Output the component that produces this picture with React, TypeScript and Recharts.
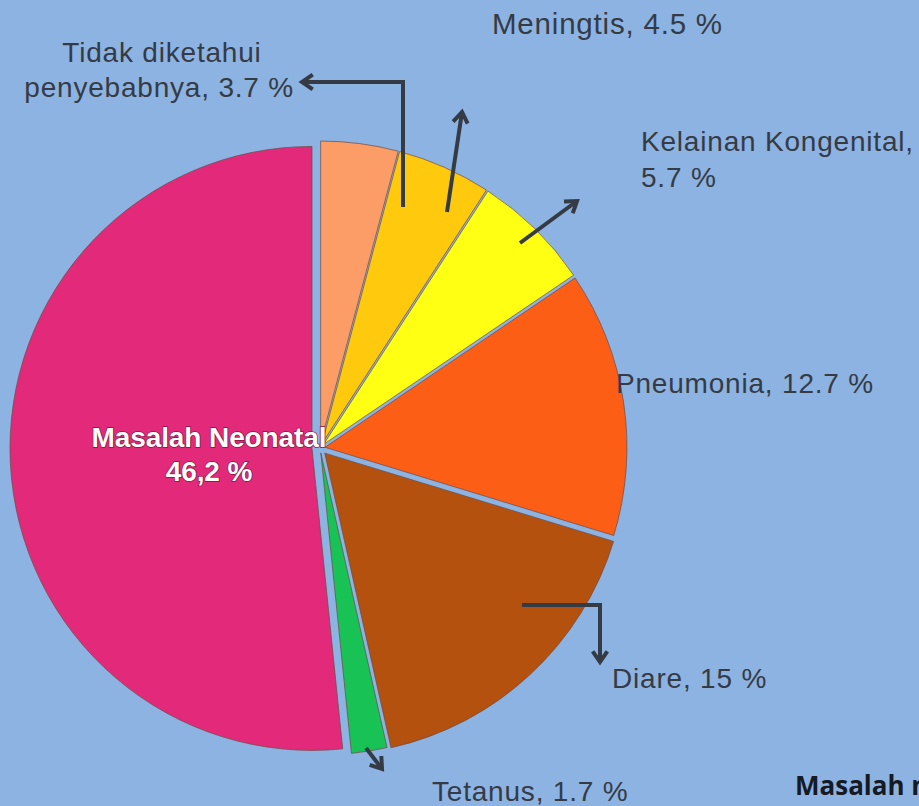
import { PieChart, Pie, Cell, Sector } from 'recharts';

const causes = [
  'Tidak diketahui penyebabnya',
  'Meningtis',
  'Kelainan Kongenital',
  'Pneumonia',
  'Diare',
  'Tetanus',
  'Masalah Neonatal',
];
const shares = [3.7, 4.5, 5.7, 12.7, 15, 1.7, 46.2];
const shareLabels = ['3.7 %', '4.5 %', '5.7 %', '12.7 %', '15 %', '1.7 %', '46,2 %'];

const colors = ['#FC9C66', '#FFC90E', '#FFFF14', '#FC5E16', '#B5510F', '#18C254', '#E32A7A'];
const explode = [5, 5, 5, 5, 7, 5, 8];

const data = causes.map((name, i) => ({ name, value: shares[i] }));

const BG = '#8DB3E2';
const INK = '#353b44';

// label text lines + arrow paths (chart px)
const labelLayout: {
  lines: { text: string; x: number; y: number; anchor?: 'start' | 'middle' | 'end'; size?: number }[];
  arrow?: [number, number][];
}[] = [
  {
    lines: [
      { text: 'Tidak diketahui', x: 162, y: 62, anchor: 'middle' },
      { text: `penyebabnya, ${shareLabels[0]}`, x: 294, y: 97, anchor: 'end' },
    ],
    arrow: [[403, 207], [403, 82], [302, 82]],
  },
  {
    lines: [{ text: `Meningtis, ${shareLabels[1]}`, x: 492, y: 34, size: 29.5 }],
    arrow: [[447, 212], [462, 112]],
  },
  {
    lines: [
      { text: 'Kelainan Kongenital,', x: 641, y: 151 },
      { text: shareLabels[2], x: 641, y: 187 },
    ],
    arrow: [[520, 243], [577, 201]],
  },
  {
    lines: [{ text: `Pneumonia, ${shareLabels[3]}`, x: 616, y: 393 }],
  },
  {
    lines: [{ text: `Diare, ${shareLabels[4]}`, x: 612, y: 688 }],
    arrow: [[522, 605], [600, 605], [600, 662]],
  },
  {
    lines: [{ text: `Tetanus, ${shareLabels[5]}`, x: 432, y: 801 }],
    arrow: [[366, 748], [382, 769]],
  },
];

const Arrow = ({ pts }: { pts: [number, number][] }) => {
  const [x1, y1] = pts[pts.length - 2];
  const [x2, y2] = pts[pts.length - 1];
  const a = Math.atan2(y2 - y1, x2 - x1);
  const w = 13;
  const s = 0.6;
  const h1 = [x2 - w * Math.cos(a - s), y2 - w * Math.sin(a - s)];
  const h2 = [x2 - w * Math.cos(a + s), y2 - w * Math.sin(a + s)];
  return (
    <g stroke={INK} strokeWidth={4} fill="none" strokeLinejoin="miter">
      <polyline points={pts.map((p) => p.join(',')).join(' ')} />
      <polyline points={`${h1.join(',')} ${x2},${y2} ${h2.join(',')}`} />
    </g>
  );
};

const renderLabel = (props: any) => {
  const { index } = props;
  if (index === 6) {
    return (
      <g
        fill="#fff"
        fontFamily="Liberation Sans, Arial, sans-serif"
        fontWeight="bold"
        fontSize={28}
        letterSpacing={-0.1}
        stroke="#8a1445"
        strokeWidth={1.5}
        paintOrder="stroke"
      >
        <text x={209} y={447} textAnchor="middle">Masalah Neonatal</text>
        <text x={209} y={481} textAnchor="middle">{shareLabels[6]}</text>
      </g>
    );
  }
  const lay = labelLayout[index];
  if (!lay) return null;
  return (
    <g>
      {lay.arrow && <Arrow pts={lay.arrow} />}
      {lay.lines.map((l, k) => (
        <text
          key={k}
          x={l.x}
          y={l.y}
          textAnchor={l.anchor || 'start'}
          fill={INK}
          fontFamily="Liberation Sans, Arial, sans-serif"
          fontSize={l.size ?? 28}
          letterSpacing={0.8}
        >
          {l.text}
        </text>
      ))}
    </g>
  );
};

const ExplodedSector = (props: any) => {
  const { cx, cy, startAngle, endAngle, index } = props;
  const mid = ((startAngle + endAngle) / 2) * (Math.PI / 180);
  const d = explode[index] ?? 0;
  return (
    <Sector
      {...props}
      cx={cx + d * Math.cos(mid)}
      cy={cy - d * Math.sin(mid)}
      stroke="#6b4a44"
      strokeOpacity={0.7}
      strokeWidth={1}
    />
  );
};

export default function App() {
  return (
    <div
      style={{
        position: 'absolute',
        left: 0,
        top: 0,
        width: 919,
        height: 806,
        background: BG,
        overflow: 'hidden',
      }}
    >
      <PieChart width={919} height={806} margin={{ top: 0, right: 0, bottom: 0, left: 0 }}>
        <Pie
          data={data}
          dataKey="value"
          nameKey="name"
          cx={320}
          cy={448}
          outerRadius={302}
          startAngle={90}
          endAngle={-270}
          shape={ExplodedSector}
          label={renderLabel}
          labelLine={false}
          isAnimationActive={false}
        >
          {data.map((d, i) => (
            <Cell key={d.name} fill={colors[i]} />
          ))}
        </Pie>
        <text
          x={795}
          y={795}
          fill="#161a22"
          fontFamily="Open Sans, sans-serif"
          fontWeight="bold"
          fontSize={26}
        >
          Masalah neonatal
        </text>
      </PieChart>
    </div>
  );
}
